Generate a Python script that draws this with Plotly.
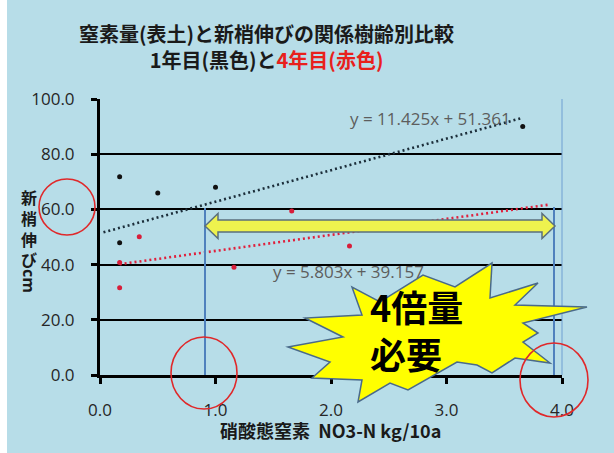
import plotly.graph_objects as go

# ---------------- data ----------------
year1_x = [0.17, 0.5, 1.0, 0.17, 3.66]
year1_y = [71.8, 65.9, 68.0, 47.9, 90.0]
year4_x = [0.17, 0.17, 0.34, 1.16, 1.66, 2.16]
year4_y = [40.8, 31.6, 50.1, 39.0, 59.4, 46.7]

trend1_slope, trend1_icpt = 11.425, 51.361
trend1_xrange = [0.03, 3.65]
trend4_slope, trend4_icpt = 5.803, 39.157
trend4_xrange = [0.17, 3.89]

x_ticks = [0.0, 1.0, 2.0, 3.0, 4.0]
y_ticks = [0.0, 20.0, 40.0, 60.0, 80.0, 100.0]

title1 = "窒素量(表土)と新梢伸びの関係樹齢別比較"
title2a = "1年目(黒色)と"
title2b = "4年目(赤色)"
eq1_text = "y = 11.425x + 51.361"
eq4_text = "y = 5.803x + 39.157"
y_title_chars = ["新", "梢", "伸", "び"]
y_title_unit = "cm"
x_title = "硝酸態窒素\u00a0\u00a0NO3-N kg/10a"
burst_text = "4倍量<br>必要"

# ---------------- layout geometry ----------------
W, H = 614, 453
L, R, T, B = 100, 562, 99, 375
BG = "#b7dde8"
CJK = "Noto Sans CJK JP"
LAT = "Open Sans"


def px(xp):
    return (xp - L) / (R - L)


def py(yp):
    return (B - yp) / (B - T)


def poly(points):
    s = "M " + " L ".join(f"{px(a):.5f},{py(b):.5f}" for a, b in points) + " Z"
    return s


fig = go.Figure()

# trend lines (from displayed equations)
for xr, m, c, col in [(trend1_xrange, trend1_slope, trend1_icpt, "#1c2e3a"),
                      (trend4_xrange, trend4_slope, trend4_icpt, "#e0203c")]:
    fig.add_trace(go.Scatter(
        x=xr, y=[m * v + c for v in xr], mode="lines",
        line=dict(color=col, width=2.6, dash="2px,3px"),
        hoverinfo="skip", showlegend=False))

fig.add_trace(go.Scatter(x=year1_x, y=year1_y, mode="markers",
                         marker=dict(color="#111111", size=5),
                         showlegend=False))
fig.add_trace(go.Scatter(x=year4_x, y=year4_y, mode="markers",
                         marker=dict(color="#d81e3a", size=5),
                         showlegend=False))

shapes = []
# white strip at left edge
shapes.append(dict(type="rect", xref="paper", yref="paper", layer="below",
                   x0=px(0), x1=px(7), y0=py(H), y1=py(0),
                   fillcolor="white", line=dict(width=0)))
# thin right border of plot area
shapes.append(dict(type="line", xref="paper", yref="paper",
                   x0=px(R), x1=px(R), y0=py(B), y1=py(T),
                   line=dict(color="#6f9fd2", width=1)))
# blue vertical guide lines
for xp, ytop in [(205, 208), (554, 207)]:
    shapes.append(dict(type="line", xref="paper", yref="paper",
                       x0=px(xp), x1=px(xp), y0=py(B), y1=py(ytop),
                       line=dict(color="#4f81bd", width=2)))
# yellow double arrow
cy = 226
arrow = [(205, cy), (218, cy - 12.5), (218, cy - 6), (542, cy - 6), (542, cy - 12.5),
         (555, cy), (542, cy + 12.5), (542, cy + 6), (218, cy + 6), (218, cy + 12.5)]
shapes.append(dict(type="path", xref="paper", yref="paper", path=poly(arrow),
                   fillcolor="#eef24e", line=dict(color="#5b6f7c", width=1.5)))
# starburst
star = [(492, 263), (490, 298), (538, 283), (515, 305), (587, 307), (523, 323),
        (538, 333), (523, 342), (550, 363), (515, 358), (492, 373), (477, 365),
        (457, 362), (408, 390), (390, 383), (358, 402), (362, 380), (312, 378),
        (330, 362), (288, 347), (343, 337), (305, 318), (362, 315), (352, 287),
        (380, 302), (423, 275), (455, 287)]
shapes.append(dict(type="path", xref="paper", yref="paper", path=poly(star),
                   fillcolor="#ffff00", line=dict(color="#4a6a8a", width=1.5)))
# red circles
for cx, cyy, rx, ry in [(67, 207, 28, 28), (204, 373, 33, 36), (554, 380, 34, 37)]:
    shapes.append(dict(type="circle", xref="paper", yref="paper",
                       x0=px(cx - rx), x1=px(cx + rx), y0=py(cyy + ry), y1=py(cyy - ry),
                       line=dict(color="#e0282a", width=1.6)))

ann = []
ann.append(dict(xref="paper", yref="paper", x=px(266), y=py(46.5),
                xanchor="center", yanchor="middle", showarrow=False,
                text=f"<b>{title1}<br>{title2a}<span style='color:#e8201c'>{title2b}</span></b>",
                font=dict(family=CJK, size=20, color="#1a1a1a")))
ann.append(dict(xref="paper", yref="paper", x=px(430), y=py(118),
                xanchor="center", yanchor="middle", showarrow=False,
                text=eq1_text, font=dict(family=LAT, size=17, color="#5d5d5d")))
ann.append(dict(xref="paper", yref="paper", x=px(348), y=py(271),
                xanchor="center", yanchor="middle", showarrow=False,
                text=eq4_text, font=dict(family=LAT, size=17, color="#5d5d5d")))
# vertical y-axis title: stacked upright characters, unit rotated
ann.append(dict(xref="paper", yref="paper", x=px(29), y=py(183),
                xanchor="center", yanchor="top", showarrow=False,
                text="<b>" + "<br>".join(y_title_chars) + "</b>",
                font=dict(family=CJK, size=16, color="#1a1a1a")))
ann.append(dict(xref="paper", yref="paper", x=px(29), y=py(281),
                xanchor="center", yanchor="middle", showarrow=False, textangle=90,
                text=f"<b>{y_title_unit}</b>", font=dict(family=LAT, size=16, color="#1a1a1a")))
ann.append(dict(xref="paper", yref="paper", x=px(330), y=py(430),
                xanchor="center", yanchor="middle", showarrow=False,
                text=f"<b>{x_title}</b>", font=dict(family=CJK, size=18, color="#1a1a1a")))
ann.append(dict(xref="paper", yref="paper", x=px(368), y=py(329),
                xanchor="left", yanchor="middle", showarrow=False, align="left",
                text=f"<b>{burst_text}</b>", font=dict(family=CJK, size=36, color="#000000")))

fig.update_layout(
    width=W, height=H,
    margin=dict(l=L, r=W - R, t=T, b=H - B, pad=0),
    paper_bgcolor=BG, plot_bgcolor=BG,
    showlegend=False,
    shapes=shapes, annotations=ann,
    xaxis=dict(range=[0, 4], tickvals=x_ticks, tickformat=".1f",
               showgrid=False, zeroline=False,
               showline=True, linecolor="black", linewidth=3,
               ticks="outside", ticklen=6, tickwidth=3, tickcolor="black",
               ticklabelstandoff=12,
               tickfont=dict(family=LAT, size=17, color="#262626")),
    yaxis=dict(range=[0, 100], tickvals=y_ticks, tickformat=".1f",
               showgrid=True, gridcolor="black", gridwidth=1.5, zeroline=False,
               showline=True, linecolor="black", linewidth=3,
               ticks="outside", ticklen=6, tickwidth=3, tickcolor="black",
               ticklabelstandoff=13,
               tickfont=dict(family=LAT, size=17, color="#262626")),
)

fig.write_html("out.html")
